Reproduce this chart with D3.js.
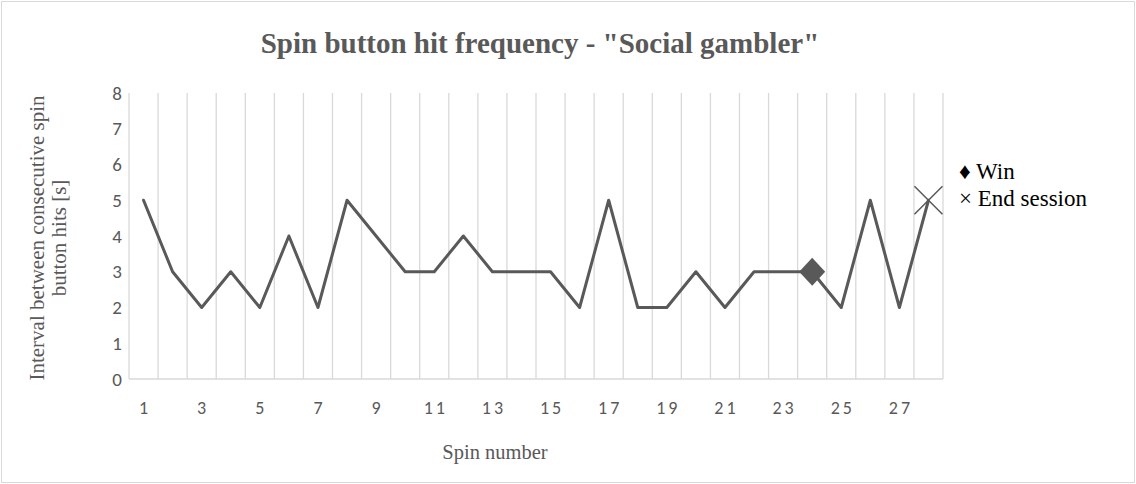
<!DOCTYPE html>
<html><head><meta charset="utf-8">
<script src="https://cdn.jsdelivr.net/npm/d3@7"></script>
<style>html,body{margin:0;padding:0;background:#fff;}</style>
</head><body><div id="chart"></div>
<script>
const spins = d3.range(1, 29);
const intervals = [5,3,2,3,2,4,2,5,4,3,3,4,3,3,3,2,5,2,2,3,2,3,3,3,2,5,2,5];
const yTicks = [0,1,2,3,4,5,6,7,8];
const winSpins = [24];
const endSpins = [28];
const title = 'Spin button hit frequency - "Social gambler"';
const yTitle = ["Interval between consecutive spin", "button hits [s]"];
const xTitle = "Spin number";
const legendItems = ["\u2666 Win", "\u00d7 End session"];

const W = 1136, H = 484;
const svg = d3.select("#chart").append("svg").attr("width", W).attr("height", H);
svg.append("rect").attr("x", 1.5).attr("y", 1.5).attr("width", W - 3).attr("height", H - 3)
  .attr("fill", "#fff").attr("stroke", "#d9d9d9").attr("stroke-width", 1);

const L = 129, R = 943, T = 93, B = 379;
const x = d3.scaleBand().domain(spins).range([L, R]).padding(0);
const y = d3.scaleLinear().domain([0, 8]).range([B, T]);
const cx = d => x(d) + x.bandwidth() / 2;
const sans = "Carlito, Calibri, Lato, sans-serif";
const serif = "'Liberation Serif', 'Times New Roman', serif";

// vertical gridlines at category boundaries
const bounds = spins.map(s => x(s)).concat([R]);
svg.append("g").selectAll("line").data(bounds).join("line")
  .attr("x1", d => d).attr("x2", d => d).attr("y1", T).attr("y2", B)
  .attr("stroke", "#d9d9d9").attr("stroke-width", 1.3);
svg.append("line").attr("x1", L).attr("x2", R).attr("y1", B).attr("y2", B)
  .attr("stroke", "#d9d9d9").attr("stroke-width", 1.3);

// y tick labels
svg.append("g").selectAll("text").data(yTicks).join("text")
  .attr("x", 122).attr("y", d => y(d)).attr("dy", "0.35em")
  .attr("text-anchor", "end").attr("fill", "#595959")
  .style("font-family", sans).style("font-size", "19px")
  .text(d => d);

// x tick labels (odd only)
svg.append("g").selectAll("text").data(spins.filter(s => s % 2 === 1)).join("text")
  .attr("x", d => cx(d) + 1.5).attr("y", 414)
  .attr("text-anchor", "middle").attr("fill", "#595959")
  .style("font-family", sans).style("font-size", "18px")
  .style("letter-spacing", "3px")
  .text(d => d);

// line
const line = d3.line().x((d, i) => cx(spins[i])).y(d => y(d));
svg.append("path").datum(intervals).attr("d", line)
  .attr("fill", "none").attr("stroke", "#595959").attr("stroke-width", 3)
  .attr("stroke-linejoin", "round").attr("stroke-linecap", "round");

// win markers (diamond)
svg.append("g").selectAll("path").data(winSpins).join("path")
  .attr("transform", s => `translate(${cx(s)},${y(intervals[s - 1])})`)
  .attr("d", "M0,-14L13,0L0,14L-13,0Z").attr("fill", "#595959");

// end markers (x)
svg.append("g").selectAll("path").data(endSpins).join("path")
  .attr("transform", s => `translate(${cx(s)},${y(intervals[s - 1])})`)
  .attr("d", "M-14,-14L14,14M-14,14L14,-14").attr("fill", "none")
  .attr("stroke", "#595959").attr("stroke-width", 1.5);

// title
svg.append("text").attr("x", 540).attr("y", 53).attr("text-anchor", "middle")
  .attr("fill", "#595959").style("font-family", serif)
  .style("font-size", "29px").style("font-weight", "bold").text(title);

// y title
const yt = svg.append("text").attr("transform", "translate(0,238) rotate(-90)")
  .attr("text-anchor", "middle").attr("fill", "#595959")
  .style("font-family", serif).style("font-size", "21px");
yt.selectAll("tspan").data(yTitle).join("tspan")
  .attr("x", 0).attr("y", (d, i) => 44 + i * 22).text(d => d);

// x title
svg.append("text").attr("x", 495).attr("y", 459).attr("text-anchor", "middle")
  .attr("fill", "#595959").style("font-family", serif)
  .style("font-size", "20.5px").text(xTitle);

// legend
svg.append("g").selectAll("text").data(legendItems).join("text")
  .attr("x", 959).attr("y", (d, i) => 179 + i * 27).attr("fill", "#000")
  .style("font-family", serif).style("font-size", "23px")
  .text(d => d);
</script></body></html>
